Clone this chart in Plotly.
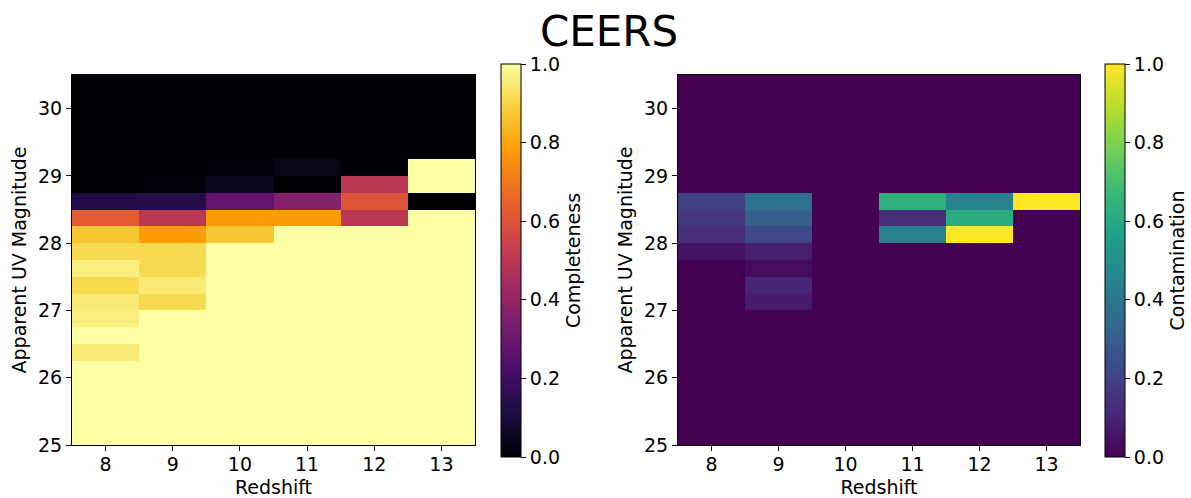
import plotly.graph_objects as go

redshift = [8, 9, 10, 11, 12, 13]
mag_centers = [25.125, 25.375, 25.625, 25.875, 26.125, 26.375, 26.625, 26.875,
               27.125, 27.375, 27.625, 27.875, 28.125, 28.375, 28.625, 28.875,
               29.125, 29.375, 29.625, 29.875, 30.125, 30.375]

# rows listed bottom (25.0-25.25) to top (30.25-30.5); columns z=8..13
completeness = [
    [1, 1, 1, 1, 1, 1],          # 25.00
    [1, 1, 1, 1, 1, 1],          # 25.25
    [1, 1, 1, 1, 1, 1],          # 25.50
    [1, 1, 1, 1, 1, 1],          # 25.75
    [1, 1, 1, 1, 1, 1],          # 26.00
    [0.95, 1, 1, 1, 1, 1],       # 26.25
    [1, 1, 1, 1, 1, 1],          # 26.50
    [0.96, 1, 1, 1, 1, 1],       # 26.75
    [0.95, 0.91, 1, 1, 1, 1],    # 27.00
    [0.91, 0.95, 1, 1, 1, 1],    # 27.25
    [0.96, 0.91, 1, 1, 1, 1],    # 27.50
    [0.91, 0.91, 1, 1, 1, 1],    # 27.75
    [0.87, 0.78, 0.87, 1, 1, 1], # 28.00
    [0.63, 0.50, 0.78, 0.78, 0.50, 1],  # 28.25
    [0.13, 0.13, 0.28, 0.36, 0.60, 0],  # 28.50
    [0, 0.01, 0.05, 0, 0.50, 1],        # 28.75
    [0, 0, 0.01, 0.04, 0, 1],           # 29.00
    [0, 0, 0, 0, 0, 0],                 # 29.25
    [0, 0, 0, 0, 0, 0],                 # 29.50
    [0, 0, 0, 0, 0, 0],                 # 29.75
    [0, 0, 0, 0, 0, 0],                 # 30.00
    [0, 0, 0, 0, 0, 0],                 # 30.25
]

contamination = [
    [0, 0, 0, 0, 0, 0],          # 25.00
    [0, 0, 0, 0, 0, 0],          # 25.25
    [0, 0, 0, 0, 0, 0],          # 25.50
    [0, 0, 0, 0, 0, 0],          # 25.75
    [0, 0, 0, 0, 0, 0],          # 26.00
    [0, 0, 0, 0, 0, 0],          # 26.25
    [0, 0, 0, 0, 0, 0],          # 26.50
    [0, 0, 0, 0, 0, 0],          # 26.75
    [0, 0.07, 0, 0, 0, 0],       # 27.00
    [0, 0.10, 0, 0, 0, 0],       # 27.25
    [0, 0.03, 0, 0, 0, 0],       # 27.50
    [0.05, 0.08, 0, 0, 0, 0],    # 27.75
    [0.13, 0.22, 0, 0.45, 1.0, 0],    # 28.00
    [0.16, 0.30, 0, 0.13, 0.62, 0],   # 28.25
    [0.20, 0.37, 0, 0.64, 0.45, 1.0], # 28.50
    [0, 0, 0, 0, 0, 0],          # 28.75
    [0, 0, 0, 0, 0, 0],          # 29.00
    [0, 0, 0, 0, 0, 0],          # 29.25
    [0, 0, 0, 0, 0, 0],          # 29.50
    [0, 0, 0, 0, 0, 0],          # 29.75
    [0, 0, 0, 0, 0, 0],          # 30.00
    [0, 0, 0, 0, 0, 0],          # 30.25
]

x_ticks = [8, 9, 10, 11, 12, 13]
y_ticks = [25, 26, 27, 28, 29, 30]
cbar_ticks = [0, 0.2, 0.4, 0.6, 0.8, 1.0]

FONT = "DejaVu Sans"
FS = 19
W, H = 1191, 498

def cbar(title, left_px):
    return dict(
        title=dict(text=title, side="right", font=dict(size=FS, family=FONT, color="black")),
        x=left_px / W, xanchor="left", xpad=0,
        y=1 - (64 + 457) / 2 / H, yanchor="middle", ypad=0,
        len=(457 - 64) / H, lenmode="fraction",
        thickness=20, thicknessmode="pixels",
        outlinewidth=1, outlinecolor="black",
        ticks="outside", ticklen=5, tickcolor="black",
        tickvals=cbar_ticks, tickformat=".1f",
        tickfont=dict(size=FS, family=FONT, color="black"),
    )

fig = go.Figure()
fig.add_trace(go.Heatmap(
    x=redshift, y=mag_centers, z=completeness,
    colorscale="Inferno", zmin=0, zmax=1, zsmooth=False,
    colorbar=cbar("Completeness", 501),
    xaxis="x", yaxis="y",
))
fig.add_trace(go.Heatmap(
    x=redshift, y=mag_centers, z=contamination,
    colorscale="Viridis", zmin=0, zmax=1, zsmooth=False,
    colorbar=cbar("Contamination", 1105),
    xaxis="x2", yaxis="y2",
))

ax_common = dict(
    showline=True, linecolor="black", linewidth=1, mirror=True,
    ticks="outside", ticklen=5, tickcolor="black", tickwidth=1,
    showgrid=False, zeroline=False, automargin=False,
    tickfont=dict(size=FS, family=FONT, color="black"),
)
ydom = [1 - 445 / H, 1 - 75 / H]
xtitle = dict(text="Redshift", font=dict(size=FS, family=FONT), standoff=7)
ytitle = dict(text="Apparent UV Magnitude", font=dict(size=FS, family=FONT), standoff=6)

fig.update_layout(
    width=W, height=H,
    margin=dict(l=0, r=0, t=0, b=0, autoexpand=False),
    paper_bgcolor="white", plot_bgcolor="white",
    font=dict(family=FONT, color="black"),
    title=dict(text="CEERS", x=609 / W, xanchor="center", y=1 - 31 / H, yanchor="middle",
               font=dict(size=42, family=FONT, color="black")),
    xaxis=dict(ax_common, domain=[72 / W, 475 / W], range=[7.5, 13.5], tickvals=x_ticks,
               ticklabelstandoff=-3, title=xtitle, anchor="y"),
    yaxis=dict(ax_common, domain=ydom, range=[25, 30.5], tickvals=y_ticks,
               title=ytitle, anchor="x"),
    xaxis2=dict(ax_common, domain=[678 / W, 1080 / W], range=[7.5, 13.5], tickvals=x_ticks,
                ticklabelstandoff=-3, title=xtitle, anchor="y2"),
    yaxis2=dict(ax_common, domain=ydom, range=[25, 30.5], tickvals=y_ticks,
                title=ytitle, anchor="x2"),
)

fig.write_html("out.html", config={"displayModeBar": False},
               post_script="document.body.style.margin='0';")
